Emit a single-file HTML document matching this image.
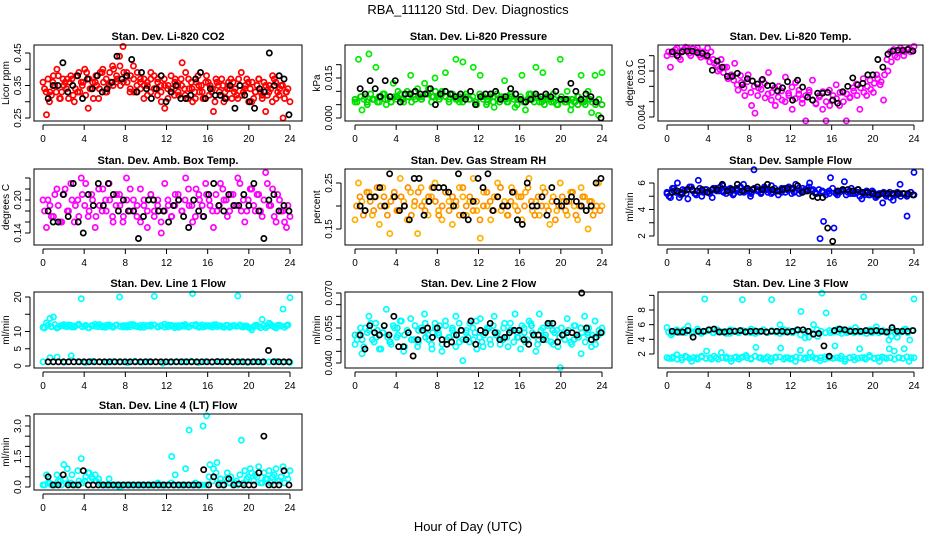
<!DOCTYPE html>
<html><head><meta charset="utf-8"><style>
html,body{margin:0;padding:0;background:#fff}
svg{display:block;font-family:"Liberation Sans",Arial,sans-serif}
</style></head><body>
<svg id="chart" width="936" height="540" viewBox="0 0 936 540" xmlns="http://www.w3.org/2000/svg">
<text x="468" y="14" text-anchor="middle" font-size="13">RBA_111120  Std. Dev. Diagnostics</text>
<text x="468" y="531" text-anchor="middle" font-size="13">Hour of Day (UTC)</text>
</svg>
<script>
const hourTicks = [0,4,8,12,16,20,24];
const co2Values = [0.36,0.26,0.33,0.38,0.40,0.31,0.35,0.37,0.38,0.30,0.33,0.36,0.40,0.28,0.34,0.36,0.31,0.39,0.33,0.35,0.41,0.36,0.44,0.47,0.38,0.33,0.41,0.35,0.37,0.31,0.36,0.39,0.34,0.37,0.30,0.28,0.35,0.33,0.37,0.32,0.42,0.39,0.34,0.30,0.36,0.33,0.31,0.38,0.35,0.27,0.36,0.32,0.30,0.34,0.37,0.33,0.31,0.39,0.34,0.36,0.30,0.33,0.37,0.32,0.27,0.35,0.38,0.31,0.34,0.25,0.33,0.30];
const co2Band = [0.34,0.37,0.32,0.35,0.38,0.33,0.36,0.31,0.37,0.34,0.39,0.35,0.32,0.37,0.36,0.38,0.34,0.40,0.37,0.39,0.35,0.38,0.41,0.36,0.39,0.34,0.37,0.33,0.36,0.35,0.32,0.37,0.34,0.36,0.33,0.35,0.31,0.34,0.36,0.33,0.35,0.32,0.37,0.34,0.31,0.35,0.33,0.36,0.32,0.34,0.37,0.33,0.35,0.31,0.34,0.36,0.32,0.35,0.33,0.37,0.34,0.31,0.35,0.33,0.36,0.32,0.34,0.37,0.33,0.35,0.31,0.34];
const co2Band2 = [0.33,0.30,0.36,0.33,0.31,0.37,0.34,0.36,0.32,0.38,0.33,0.36,0.39,0.34,0.31,0.35,0.39,0.36,0.33,0.36,0.40,0.37,0.35,0.39,0.36,0.38,0.33,0.39,0.34,0.37,0.35,0.33,0.38,0.32,0.35,0.37,0.34,0.38,0.32,0.35,0.37,0.34,0.31,0.36,0.33,0.38,0.35,0.31,0.36,0.33,0.30,0.35,0.37,0.33,0.36,0.31,0.34,0.37,0.32,0.35,0.30,0.36,0.33,0.37,0.31,0.35,0.33,0.30,0.36,0.32,0.35,0.33];
const co2Black = [0.31,0.35,0.35,0.42,0.33,0.35,0.38,0.31,0.37,0.34,0.38,0.33,0.34,0.36,0.44,0.37,0.38,0.43,0.33,0.39,0.34,0.31,0.34,0.38,0.30,0.33,0.35,0.31,0.31,0.32,0.37,0.39,0.31,0.34,0.32,0.32,0.31,0.35,0.28,0.35,0.32,0.30,0.28,0.34,0.33,0.45,0.35,0.38,0.37,0.26];
const pressValues = [0.006,0.022,0.003,0.008,0.024,0.007,0.019,0.006,0.009,0.005,0.008,0.013,0.007,0.009,0.006,0.010,0.016,0.008,0.011,0.007,0.013,0.009,0.006,0.015,0.008,0.010,0.017,0.007,0.009,0.022,0.006,0.021,0.008,0.007,0.019,0.005,0.016,0.008,0.006,0.009,0.004,0.007,0.008,0.014,0.006,0.009,0.004,0.007,0.016,0.003,0.009,0.007,0.019,0.006,0.017,0.008,0.007,0.009,0.005,0.022,0.007,0.010,0.003,0.006,0.008,0.016,0.007,0.010,0.002,0.016,0.001,0.017];
const pressBand = [0.007,0.008,0.006,0.007,0.008,0.007,0.006,0.008,0.007,0.009,0.007,0.008,0.009,0.008,0.007,0.008,0.009,0.007,0.008,0.007,0.006,0.008,0.007,0.008,0.006,0.007,0.008,0.007,0.006,0.007,0.008,0.006,0.007,0.006,0.007,0.006,0.007,0.005,0.006,0.007,0.006,0.005];
const pressBand2 = [0.006,0.008,0.007,0.005,0.009,0.007,0.006,0.008,0.009,0.007,0.006,0.008,0.010,0.007,0.009,0.008,0.006,0.010,0.008,0.007,0.009,0.011,0.008,0.010,0.007,0.009,0.008,0.006,0.009,0.007,0.008,0.006,0.009,0.007,0.008,0.006,0.009,0.007,0.005,0.008,0.006,0.009,0.007,0.008,0.006,0.009,0.007,0.005,0.008,0.006,0.007,0.009,0.006,0.008,0.007,0.005,0.008,0.006,0.007,0.005,0.008,0.006,0.007,0.005,0.006,0.008,0.006,0.005,0.007,0.006,0.005,0.007];
const pressBlack = [0.011,0.009,0.014,0.011,0.008,0.014,0.008,0.014,0.006,0.009,0.009,0.010,0.009,0.009,0.011,0.005,0.009,0.010,0.009,0.008,0.009,0.007,0.010,0.005,0.008,0.009,0.009,0.010,0.007,0.008,0.011,0.009,0.007,0.006,0.007,0.009,0.008,0.009,0.008,0.010,0.007,0.007,0.013,0.010,0.007,0.009,0.008,0.006,0.0];
const tempValues = [0.012,0.0105,0.0125,0.013,0.0115,0.0128,0.013,0.012,0.0125,0.013,0.0118,0.012,0.013,0.0125,0.011,0.010,0.0115,0.0105,0.009,0.0095,0.011,0.0075,0.0085,0.0068,0.0095,0.0055,0.0045,0.0078,0.0088,0.0065,0.0098,0.0072,0.0055,0.008,0.0062,0.0092,0.0068,0.005,0.0085,0.0075,0.0063,0.0035,0.0072,0.0088,0.0058,0.0068,0.005,0.0035,0.0075,0.0062,0.0082,0.0055,0.0072,0.0035,0.0065,0.0078,0.0083,0.005,0.009,0.0068,0.0088,0.0072,0.0095,0.0082,0.0062,0.0115,0.0125,0.0128,0.0118,0.013,0.012,0.0128,0.0125,0.0132];
const tempBand = [0.0125,0.0122,0.0128,0.0118,0.0126,0.0131,0.0123,0.0129,0.0127,0.0121,0.0125,0.0119,0.0112,0.0115,0.0108,0.0102,0.0098,0.0105,0.0092,0.0088,0.0082,0.0094,0.0078,0.0086,0.0072,0.0080,0.0068,0.0076,0.0084,0.0070,0.0062,0.0078,0.0066,0.0074,0.0060,0.0071,0.0079,0.0064,0.0070,0.0058,0.0068,0.0075,0.0062,0.0057,0.0066,0.0073,0.0060,0.0055,0.0068,0.0064,0.0072,0.0060,0.0070,0.0066,0.0074,0.0068,0.0078,0.0072,0.0080,0.0076,0.0084,0.0090,0.0086,0.0095,0.0100,0.0112,0.0120,0.0124,0.0127,0.0125,0.0129,0.0127];
const tempBlack = [0.0125,0.012,0.0125,0.0126,0.0126,0.0124,0.0123,0.012,0.0101,0.0113,0.0105,0.0093,0.0093,0.0097,0.0082,0.0090,0.0087,0.0083,0.0089,0.0081,0.0081,0.0074,0.0078,0.0086,0.0062,0.0088,0.0079,0.0066,0.0062,0.0071,0.0071,0.0072,0.0062,0.0058,0.0073,0.0080,0.0091,0.0082,0.0084,0.0095,0.0095,0.0115,0.0105,0.0122,0.0126,0.0127,0.0127,0.0128,0.0126];
const ambValues = [0.20,0.15,0.19,0.17,0.22,0.16,0.21,0.18,0.23,0.16,0.20,0.24,0.19,0.17,0.21,0.15,0.22,0.18,0.20,0.23,0.17,0.19,0.21,0.16,0.24,0.18,0.20,0.17,0.22,0.19,0.15,0.21,0.18,0.20,0.14,0.23,0.19,0.17,0.21,0.20,0.18,0.24,0.19,0.16,0.22,0.20,0.17,0.21,0.19,0.15,0.18,0.23,0.20,0.17,0.21,0.19,0.24,0.18,0.16,0.20,0.22,0.18,0.21,0.17,0.25,0.19,0.22,0.16,0.20,0.18,0.15,0.17];
const ambBand = [0.18,0.20,0.17,0.21,0.19,0.16,0.22,0.18,0.20,0.19,0.17,0.21,0.23,0.18,0.20,0.17,0.19,0.22,0.18,0.20,0.16,0.21,0.19,0.17,0.20,0.22,0.18,0.19,0.16,0.20,0.18,0.21,0.17,0.19,0.16,0.18,0.20,0.17,0.19,0.21,0.18,0.20,0.22,0.19,0.17,0.21,0.19,0.23,0.20,0.18,0.21,0.19,0.22,0.20,0.18,0.21,0.19,0.23,0.20,0.18,0.22,0.19,0.21,0.18,0.20,0.23,0.19,0.17,0.21,0.18,0.16,0.19];
const ambBlack = [0.18,0.16,0.16,0.21,0.17,0.23,0.16,0.14,0.21,0.19,0.23,0.19,0.23,0.21,0.18,0.20,0.18,0.18,0.13,0.17,0.20,0.20,0.18,0.18,0.16,0.19,0.20,0.17,0.15,0.20,0.18,0.17,0.21,0.23,0.19,0.18,0.21,0.19,0.19,0.21,0.19,0.23,0.18,0.13,0.20,0.21,0.18,0.19,0.18];
const rhValues = [0.17,0.25,0.21,0.19,0.23,0.18,0.22,0.16,0.24,0.20,0.14,0.22,0.19,0.26,0.21,0.17,0.23,0.20,0.14,0.24,0.21,0.18,0.22,0.25,0.19,0.17,0.23,0.21,0.16,0.20,0.24,0.22,0.18,0.21,0.26,0.19,0.13,0.23,0.20,0.17,0.22,0.25,0.19,0.21,0.18,0.24,0.20,0.22,0.17,0.23,0.26,0.19,0.21,0.18,0.24,0.20,0.16,0.22,0.19,0.25,0.21,0.18,0.23,0.20,0.17,0.24,0.22,0.15,0.21,0.19,0.25,0.20];
const rhBand = [0.20,0.22,0.18,0.23,0.21,0.19,0.24,0.20,0.22,0.18,0.21,0.23,0.19,0.22,0.20,0.24,0.18,0.21,0.23,0.20,0.19,0.22,0.24,0.21,0.18,0.20,0.23,0.19,0.22,0.21,0.18,0.24,0.20,0.22,0.19,0.21,0.17,0.20,0.23,0.21,0.19,0.22,0.24,0.20,0.18,0.21,0.23,0.19,0.22,0.20,0.24,0.21,0.18,0.22,0.20,0.23,0.19,0.21,0.17,0.20,0.22,0.19,0.21,0.23,0.18,0.20,0.22,0.19,0.21,0.18,0.20,0.19];
const rhBlack = [0.20,0.19,0.22,0.22,0.24,0.20,0.27,0.22,0.19,0.20,0.17,0.26,0.26,0.18,0.21,0.24,0.24,0.24,0.23,0.20,0.27,0.18,0.17,0.21,0.26,0.24,0.27,0.19,0.22,0.20,0.20,0.23,0.17,0.16,0.25,0.20,0.20,0.22,0.18,0.24,0.21,0.20,0.21,0.22,0.21,0.20,0.19,0.20,0.25,0.26];
const flowValues = [5.3,4.9,5.6,6.0,5.1,5.4,4.8,5.7,5.2,6.2,5.0,5.5,5.3,4.9,5.6,5.4,5.8,5.2,5.5,5.1,5.6,5.3,5.9,5.4,5.0,7.0,5.5,5.2,5.6,5.3,5.8,5.4,5.1,5.6,5.3,5.7,5.5,5.9,5.2,5.6,5.4,6.0,5.5,5.2,1.8,3.1,5.3,6.4,2.6,5.1,5.4,6.1,5.3,5.6,5.2,5.5,4.8,5.3,5.1,5.4,4.9,5.2,4.5,5.0,5.3,4.7,5.1,5.9,5.2,3.5,5.3,6.8];
const flowBand = [5.2,5.4,5.3,5.5,5.2,5.4,5.3,5.5,5.4,5.3,5.5,5.4,5.3,5.4,5.5,5.3,5.4,5.5,5.3,5.4,5.5,5.3,5.4,5.2,5.3,5.4,5.2,5.3,5.1,5.2,5.1,5.2,5.1,5.2,5.0,5.1];
const flowBand2 = [5.0,5.6,5.3,4.9,5.5,5.2,5.7,5.4,5.1,5.6,5.3,5.5,5.2,5.6,5.4,5.7,5.3,5.5,5.6,5.2,5.4,5.7,5.3,5.5,5.2,5.6,5.4,5.3,5.7,5.5,5.2,5.6,5.4,5.3,5.6,5.5,5.2,5.4,5.6,5.3,5.5,5.7,5.4,5.2,5.5,5.3,5.1,5.4,5.6,5.2,5.3,5.5,5.1,5.4,5.2,5.3,5.0,5.2,5.4,5.1,5.3,5.0,5.2,5.3,5.1,4.9,5.2,5.3,5.0,5.2,5.1,5.3];
const flowBlack = [5.3,5.4,5.2,5.5,5.5,5.4,5.5,5.3,5.5,5.5,5.9,5.4,5.5,5.9,5.4,5.6,5.5,5.7,5.5,5.9,5.5,5.4,5.5,5.6,5.6,5.8,5.3,5.4,5.0,4.9,4.9,2.6,1.6,5.4,5.5,5.5,5.4,5.5,5.3,5.3,5.2,5.1,5.2,5.2,5.2,5.2,5.2,5.2,5.1];
const line1Upper = [11.2,12.5,13.8,14.2,11.0,11.6,12.0,11.4,11.8,11.3,11.9,19.5,11.5,11.1,11.7,12.1,11.4,11.6,11.2,11.9,11.5,11.8,20.0,11.3,11.7,11.4,12.0,11.5,11.2,11.8,11.6,11.9,20.2,11.4,11.7,11.3,11.9,11.5,11.6,11.2,11.8,11.5,11.4,21.0,12.0,11.6,11.3,11.7,11.5,11.9,11.4,11.6,11.2,11.8,11.5,11.7,20.3,11.4,11.6,11.2,10.5,11.8,11.5,13.5,11.1,12.4,11.6,11.0,11.8,16.5,11.7,19.8];
const line1Band = [11.0,11.8,11.4,12.0,11.2,11.7,11.5,11.9,11.3,11.6,12.1,11.4,11.8,11.1,11.7,11.5,12.0,11.3,11.8,11.6,11.2,11.9,11.5,11.7,11.3,12.0,11.6,11.4,11.8,11.2,11.7,11.5,11.9,11.3,11.6,12.1,11.4,11.8,11.1,11.7,11.5,12.0,11.3,11.8,11.6,11.2,11.9,11.5,11.7,11.3,12.0,11.6,11.4,11.8,11.2,11.7,11.5,11.9,11.3,11.6,11.0,11.4,11.8,11.1,11.7,11.5,12.0,11.3,11.8,11.6,11.2,11.9];
const line1Lower = [1.2,2.4,2.6,1.1,3.0,1.3,1.0,1.4,1.2,1.1,1.3,1.2,1.0,1.4,1.1,1.3,1.2,0.8,1.1,1.3,1.2,1.4,1.0,1.3,1.1,1.2,1.3,1.1,1.2,1.0,1.3,1.1,1.2,1.4,1.1,1.0];
const line1Black = [1.2,1.2,1.2,1.2,1.2,1.2,1.2,1.2,1.2,1.2,1.2,1.2,1.2,1.2,1.2,1.2,1.2,1.2,1.2,1.2,1.2,1.2,1.2,1.2,1.2,1.2,1.2,1.2,1.2,1.2,1.2,1.2,1.2,1.3,1.2,1.2,1.2,1.2,1.2,1.2,1.2,1.2,1.2,4.5,1.2,1.2,1.2,1.2];
const line2Values = [0.048,0.052,0.044,0.055,0.060,0.050,0.057,0.046,0.053,0.063,0.049,0.056,0.051,0.058,0.045,0.054,0.059,0.050,0.047,0.055,0.061,0.052,0.048,0.057,0.053,0.045,0.058,0.051,0.055,0.060,0.049,0.041,0.054,0.057,0.050,0.046,0.059,0.052,0.055,0.048,0.060,0.053,0.050,0.057,0.047,0.054,0.061,0.051,0.056,0.049,0.058,0.053,0.045,0.061,0.055,0.050,0.057,0.048,0.054,0.038,0.052,0.059,0.049,0.056,0.051,0.044,0.060,0.053,0.047,0.058,0.052,0.055];
const line2Band = [0.052,0.050,0.054,0.051,0.053,0.049,0.055,0.052,0.050,0.054,0.051,0.053,0.056,0.050,0.052,0.054,0.051,0.053,0.049,0.055,0.052,0.050,0.054,0.051,0.053,0.056,0.050,0.052,0.054,0.051,0.053,0.050,0.055,0.052,0.051,0.053];
const line2Band2 = [0.050,0.055,0.047,0.053,0.057,0.049,0.054,0.046,0.056,0.051,0.048,0.055,0.052,0.058,0.047,0.053,0.050,0.056,0.049,0.054,0.057,0.050,0.046,0.055,0.052,0.048,0.056,0.051,0.054,0.047,0.057,0.050,0.053,0.049,0.055,0.058,0.051,0.047,0.054,0.050,0.056,0.052,0.048,0.055,0.051,0.057,0.049,0.053,0.046,0.055,0.050,0.057,0.052,0.048,0.054,0.051,0.056,0.049,0.053,0.047,0.055,0.050,0.054,0.048,0.056,0.051,0.053,0.049,0.055,0.052,0.048,0.054];
const line2Black = [0.052,0.046,0.056,0.053,0.052,0.056,0.052,0.060,0.047,0.047,0.053,0.043,0.050,0.054,0.055,0.051,0.055,0.050,0.048,0.049,0.052,0.054,0.050,0.058,0.048,0.054,0.053,0.057,0.053,0.050,0.051,0.053,0.054,0.054,0.050,0.048,0.052,0.052,0.050,0.057,0.057,0.049,0.052,0.053,0.053,0.052,0.070,0.055,0.050,0.051,0.053];
const line3Upper = [5.6,4.6,5.2,4.9,5.3,5.8,4.8,5.1,5.0,9.5,5.2,4.9,5.3,5.0,5.1,4.8,5.2,5.0,9.4,5.1,4.9,5.2,5.0,5.3,4.9,9.4,5.1,6.0,5.0,5.2,4.9,5.3,7.8,4.2,5.1,6.0,4.4,10.3,7.6,4.9,5.2,5.0,5.3,4.9,5.1,5.6,5.0,9.8,5.2,4.9,5.7,5.1,5.0,3.9,5.3,4.3,5.0,5.4,3.9,9.5];
const line3Band = [5.0,4.8,5.3,5.1,4.9,5.2,5.0,5.4,4.8,5.1,5.3,4.9,5.2,5.0,4.8,5.3,5.1,4.9,5.2,5.0,5.4,4.8,5.1,5.3,4.9,5.2,5.0,4.8,5.3,5.1,4.9,5.2,4.6,5.0,4.3,4.8,5.3,5.1,4.9,5.2,5.0,5.4,4.8,5.1,5.3,4.9,5.2,5.0,4.8,5.3,5.1,4.9,5.2,5.0,4.4,4.8,5.1,5.3,4.9,5.2];
const line3Lower = [1.5,1.4,1.9,1.2,1.6,1.0,1.5,1.7,2.4,1.3,1.5,2.2,1.4,1.0,1.6,1.5,1.8,1.3,2.9,1.5,1.4,1.0,1.6,2.8,1.5,1.3,1.0,2.5,1.5,2.2,1.4,1.1,1.6,1.5,3.1,1.4,1.0,1.5,1.2,2.7,1.5,1.8,1.4,1.0,1.5,2.7,2.4,1.5,2.7,1.0,1.5];
const line3LowBand = [1.4,1.6,1.3,1.5,1.7,1.4,1.5,1.3,1.6,1.4,1.5,1.7,1.3,1.5,1.6,1.4,1.5,1.3,1.6,1.5,1.4,1.7,1.5,1.3,1.6,1.4,1.5,1.6,1.3,1.5,1.4,1.6,1.5,1.3,1.5,1.6,1.4,1.5,1.3,1.6,1.4,1.5,1.7,1.3,1.5,1.6,1.4,1.5,1.3,1.6,1.4,1.5,1.6,1.4,1.5,1.3,1.5,1.4,1.6,1.5];
const line3Black = [5.1,5.0,5.0,5.2,4.3,5.1,5.1,5.3,5.4,5.0,5.0,5.1,5.1,5.2,5.0,5.1,5.1,5.1,5.0,5.1,5.1,5.1,5.0,5.1,5.3,5.3,5.1,4.7,4.8,3.1,1.7,5.2,5.4,5.3,5.1,5.1,5.1,5.2,5.1,5.2,5.1,5.0,5.6,5.1,5.1,5.1,5.2];
const line4Values = [0.1,0.6,0.2,0.1,0.6,0.3,1.1,0.9,0.2,0.1,0.8,1.4,0.3,0.7,0.5,0.6,0.4,0.1,0.1,0.4,0.1,0.1,0.0,0.1,0.1,0.1,0.1,0.1,0.1,0.1,0.1,0.1,0.1,0.2,0.1,0.1,0.1,1.5,0.6,0.1,0.1,0.9,2.8,0.1,0.1,0.1,3.0,3.5,1.1,0.9,1.2,0.4,0.1,0.7,0.5,0.2,0.1,2.3,0.8,0.5,0.7,0.6,1.0,0.2,0.4,0.8,0.5,0.9,0.3,1.0,0.6,0.8];
const line4Band = [0.1,0.2,0.1,0.1,0.3,0.1,0.4,0.2,0.6,0.1,0.3,0.2,0.5,0.7,0.4,0.3,0.2,0.1,0.1,0.1,0.1,0.1,0.1,0.1,0.1,0.1,0.1,0.1,0.1,0.1,0.1,0.1,0.1,0.1,0.1,0.1,0.1,0.2,0.1,0.1,0.1,0.1,0.1,0.1,0.2,0.1,0.1,0.1,0.5,0.3,0.7,0.2,0.1,0.4,0.2,0.1,0.3,0.6,0.2,0.4,0.9,0.3,0.5,0.2,0.7,0.4,0.2,0.6,0.3,0.5,0.2,0.4];
const line4Black = [0.5,0.1,0.1,0.6,0.1,0.1,0.1,0.8,0.1,0.1,0.1,0.1,0.1,0.1,0.1,0.1,0.1,0.1,0.1,0.1,0.1,0.1,0.1,0.1,0.1,0.1,0.1,0.1,0.1,0.1,0.1,0.85,0.1,0.5,0.1,0.1,0.4,0.1,0.15,0.1,0.1,0.1,0.7,2.5,0.1,0.1,0.1,0.8,0.1];
const yTicksCo2 = [0.25,0.30,0.35,0.40,0.45];
const yLabelsCo2 = ["0.25","","0.35","","0.45"];
const yTicksPress = [0.000,0.005,0.010,0.015,0.020];
const yLabelsPress = ["0.000","","","0.015",""];
const yTicksTemp = [0.004,0.006,0.008,0.010,0.012];
const yLabelsTemp = ["0.004","","","0.010",""];
const yTicksAmb = [0.14,0.16,0.18,0.20,0.22,0.24];
const yLabelsAmb = ["0.14","","","0.20","",""];
const yTicksRh = [0.15,0.20,0.25];
const yLabelsRh = ["0.15","","0.25"];
const yTicksFlow = [2,3,4,5,6];
const yLabelsFlow = ["2","","4","","6"];
const yTicksL1 = [0,5,10,15,20];
const yLabelsL1 = ["0","5","10","","20"];
const yTicksL2 = [0.040,0.045,0.050,0.055,0.060,0.065,0.070];
const yLabelsL2 = ["0.040","","","0.055","","","0.070"];
const yTicksL3 = [2,4,6,8,10];
const yLabelsL3 = ["2","4","6","8",""];
const yTicksL4 = [0,0.5,1.0,1.5,2.0,2.5,3.0,3.5];
const yLabelsL4 = ["0.0","","","1.5","","","3.0",""];

const NS = "http://www.w3.org/2000/svg";
const svg = document.getElementById('chart');
function mk(tag, attrs, parent) {
  const e = document.createElementNS(NS, tag);
  for (const k in attrs) e.setAttribute(k, attrs[k]);
  (parent || svg).appendChild(e);
  return e;
}
const cols = [{bx:34,bw:268,x0:43,x24:290},{bx:345,bw:267,x0:355,x24:602},{bx:658,bw:265,x0:667,x24:914}];
const rows = [45,169,292,414];
const BH = 76;

function panel(name, title, ylab, col, row, cal, ticks, labels, series) {
  const c = cols[col], top = rows[row];
  const g = mk('g', {});
  
  
  const xs = h => c.x0 + h * (c.x24 - c.x0) / 24;
  const ys = v => cal[1] + (v - cal[0]) * (cal[3] - cal[1]) / (cal[2] - cal[0]);
  const t = mk('text', {x: c.bx + c.bw/2, y: top - 5, 'text-anchor':'middle', 'font-size':11, 'font-weight':'bold'}, g);
  t.textContent = title;
  
  
  series.forEach(s => {
    const sg = mk('g', {fill:'none', stroke:s.color, 'stroke-width':1.7}, g);
    
    
    const n = s.data.length;
    s.data.forEach((v, i) => {
      const h = s.x0 + (s.x1 - s.x0) * (n > 1 ? i / (n - 1) : 0);
      const p = mk('circle', {cx: xs(h), cy: ys(v), r: 2.6}, sg);
      
      
    });
  });
  const box = mk('rect', {x:c.bx, y:top, width:c.bw, height:BH, fill:'none', stroke:'#000', 'stroke-width':1}, g);
  
  
  const xa = mk('g', {}, g);
  
  
  const yb = top + BH;
  mk('line', {x1:xs(0), x2:xs(24), y1:yb+4, y2:yb+4, stroke:'#000'}, xa);
  hourTicks.forEach(h => {
    mk('line', {x1:xs(h), x2:xs(h), y1:yb+4, y2:yb+9, stroke:'#000'}, xa);
    const tl = mk('text', {x:xs(h), y:yb+21, 'text-anchor':'middle', 'font-size':10}, xa);
    tl.textContent = h;
  });
  const ya = mk('g', {}, g);
  
  
  const ax = c.bx - 4;
  mk('line', {x1:ax, x2:ax, y1:ys(ticks[0]), y2:ys(ticks[ticks.length-1]), stroke:'#000'}, ya);
  ticks.forEach((v, i) => {
    const y = ys(v);
    mk('line', {x1:ax-5, x2:ax, y1:y, y2:y, stroke:'#000'}, ya);
    if (labels[i]) {
      const tl = mk('text', {x:ax-9, y:y, 'text-anchor':'middle', 'font-size':10, transform:'rotate(-90 '+(ax-9)+' '+y+')'}, ya);
      tl.textContent = labels[i];
    }
  });
  const yl = mk('text', {x:c.bx-25, y:top+BH/2, 'text-anchor':'middle', 'font-size':10, transform:'rotate(-90 '+(c.bx-25)+' '+(top+BH/2)+')'}, g);
  yl.textContent = ylab;
  
  
}
const B = (data) => ({key:'black', color:'#000', data, x0:0.5, x1:23.9});
const C = (key, color, data, x0, x1) => ({key, color, data, x0: x0 === undefined ? 0 : x0, x1: x1 === undefined ? 24 : x1});

panel('co2', 'Stan. Dev. Li-820 CO2', 'Licor ppm', 0, 0, [0.25,118,0.45,53], yTicksCo2, yLabelsCo2,
  [C('red','#ff0000',co2Values), C('red-band','#ff0000',co2Band,0.15,23.8), C('red-band2','#ff0000',co2Band2,0.3,23.6), B(co2Black)]);
panel('pressure', 'Stan. Dev. Li-820 Pressure', 'kPa', 1, 0, [0,118,0.015,78], yTicksPress, yLabelsPress,
  [C('green','#00ee00',pressValues), C('green-band','#00cc00',pressBand), C('green-band2','#00dd00',pressBand2,0.2,23.7), B(pressBlack)]);
panel('temp', 'Stan. Dev. Li-820 Temp.', 'degrees C', 2, 0, [0.004,117,0.010,71], yTicksTemp, yLabelsTemp,
  [C('magenta','#ff00ff',tempValues), C('magenta-band','#ff00ff',tempBand,0.15,23.8), B(tempBlack)]);
panel('amb-box', 'Stan. Dev. Amb. Box Temp.', 'degrees C', 0, 1, [0.14,233,0.20,200], yTicksAmb, yLabelsAmb,
  [C('magenta','#ff00ff',ambValues), C('magenta-band','#ff00ff',ambBand,0.15,23.8), B(ambBlack)]);
panel('rh', 'Stan. Dev. Gas Stream RH', 'percent', 1, 1, [0.15,229,0.25,183], yTicksRh, yLabelsRh,
  [C('orange','#ffb000',rhValues), C('orange-band','#ff9000',rhBand,0.15,23.8), B(rhBlack)]);
panel('sample-flow', 'Stan. Dev. Sample Flow', 'ml/min', 2, 1, [2,236,6,183], yTicksFlow, yLabelsFlow,
  [C('blue','#0000ff',flowValues), C('blue-band','#0000ee',flowBand), C('blue-band2','#0000ff',flowBand2,0.2,23.7), B(flowBlack)]);
panel('line1', 'Stan. Dev. Line 1 Flow', 'ml/min', 0, 2, [0,366,20,297], yTicksL1, yLabelsL1,
  [C('cyan-upper','#00ffff',line1Upper), C('cyan-band','#00ffff',line1Band,0.15,23.8), C('cyan-lower','#00ffff',line1Lower), B(line1Black)]);
panel('line2', 'Stan. Dev. Line 2 Flow', 'ml/min', 1, 2, [0.040,363,0.070,293], yTicksL2, yLabelsL2,
  [C('cyan','#00ffff',line2Values), C('cyan-band','#00f0f0',line2Band), C('cyan-band2','#00ffff',line2Band2,0.2,23.7), B(line2Black)]);
panel('line3', 'Stan. Dev. Line 3 Flow', 'ml/min', 2, 2, [2,354,8,310], yTicksL3, yLabelsL3,
  [C('cyan-upper','#00ffff',line3Upper), C('cyan-band','#00ffff',line3Band,0.15,23.8), C('cyan-lower','#00ffff',line3Lower), C('cyan-low-band','#00ffff',line3LowBand,0.2,23.7), B(line3Black)]);
panel('line4', 'Stan. Dev. Line 4 (LT) Flow', 'ml/min', 0, 3, [0,487,3.0,426], yTicksL4, yLabelsL4,
  [C('cyan','#00ffff',line4Values), C('cyan-band','#00ffff',line4Band,0.15,23.8), B(line4Black)]);
</script>
</body></html>
